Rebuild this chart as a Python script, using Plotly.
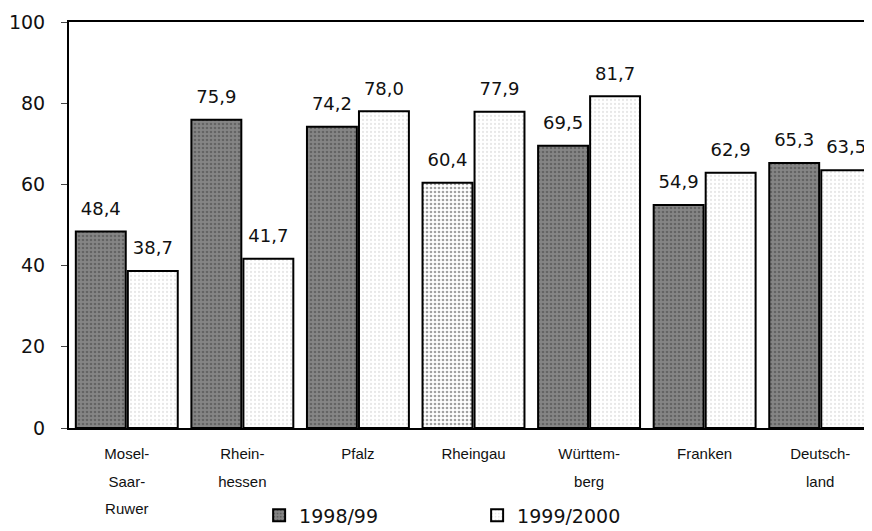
import plotly.graph_objects as go

categories = ["Mosel-<br>Saar-<br>Ruwer", "Rhein-<br>hessen", "Pfalz", "Rheingau",
              "Württem-<br>berg", "Franken", "Deutsch-<br>land"]
series_names = ["1998/99", "1999/2000"]
values_9899 = [48.4, 75.9, 74.2, 60.4, 69.5, 54.9, 65.3]
values_9900 = [38.7, 41.7, 78.0, 77.9, 81.7, 62.9, 63.5]
y_ticks = [0, 20, 40, 60, 80, 100]


def de(v):
    return f"{v:.1f}".replace(".", ",")


LABEL_FONT = "DejaVu Sans, Arial, sans-serif"
GAP = 0.1

dark_colors = ["#858585"] * len(values_9899)
dark_colors[3] = "white"
dark_fg = ["#3a3a3a"] * len(values_9899)
dark_fg[3] = "white"

fig = go.Figure()
fig.add_trace(go.Bar(
    x=categories, y=values_9899, name=series_names[0], offsetgroup="a",
    marker=dict(color=dark_colors, line=dict(color="black", width=2),
                pattern=dict(shape=".", fgcolor=dark_fg, size=4, solidity=0.35)),
))
fig.add_trace(go.Bar(
    x=categories, y=values_9900, name=series_names[1], offsetgroup="b",
    marker=dict(color="white", line=dict(color="black", width=2),
                pattern=dict(shape=".", fgcolor="#cfcfcf", size=4, solidity=0.25)),
))
# value labels (German decimal comma), placed above the bars
for vals, grp in ((values_9899, "a"), (values_9900, "b")):
    fig.add_trace(go.Scatter(
        x=categories, y=vals, offsetgroup=grp, mode="markers+text",
        text=[de(v) for v in vals], textposition="top center",
        textfont=dict(size=18, family=LABEL_FONT, color="#111"),
        marker=dict(size=18, opacity=0), showlegend=False, hoverinfo="skip",
        cliponaxis=False,
    ))

fig.update_layout(
    width=872, height=531,
    margin=dict(l=61, r=2, t=14, b=111, autoexpand=False),
    paper_bgcolor="white", plot_bgcolor="white",
    font=dict(family=LABEL_FONT, color="#111"),
    barmode="group", bargap=GAP, bargroupgap=0.04,
    scattermode="group", scattergap=GAP,
    showlegend=True,
    legend=dict(orientation="h", x=0.235, xanchor="left", y=-0.215, yanchor="middle",
                font=dict(size=19, family=LABEL_FONT), entrywidth=173,
                entrywidthmode="pixels", itemwidth=30, traceorder="normal"),
)
fig.update_yaxes(range=[0, 100], tickvals=y_ticks, ticks="outside", ticklen=6,
                 tickfont=dict(size=19, family=LABEL_FONT), ticklabelstandoff=12,
                 showgrid=False, zeroline=False,
                 showline=True, linecolor="black", linewidth=2, mirror=True)
fig.update_xaxes(tickmode="array", tickvals=categories,
                 ticktext=[f"<span style='font-size:15px'>{c}</span>" for c in categories],
                 tickfont=dict(size=21, family="Liberation Sans, Arial, sans-serif"),
                 showline=True, linecolor="black", linewidth=2, mirror=True,
                 ticks="", showgrid=False, ticklabelstandoff=4)

fig.write_html("out.html")
